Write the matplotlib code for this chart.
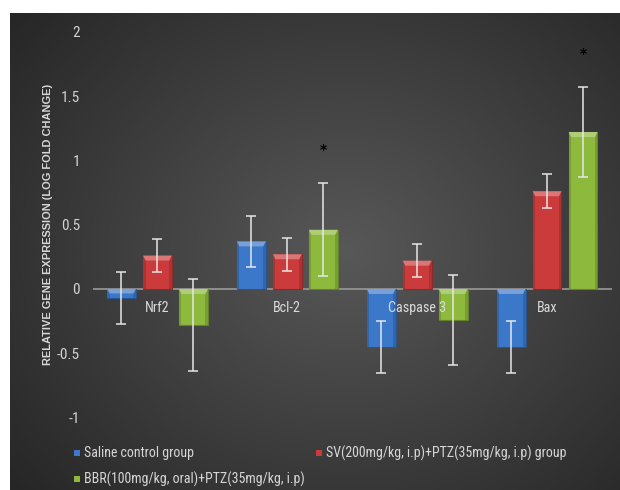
import numpy as np
import matplotlib
matplotlib.use("Agg")
import matplotlib.pyplot as plt
from matplotlib import font_manager
from matplotlib.patches import Rectangle, Polygon
from matplotlib.colors import to_rgb

# ---- data -------------------------------------------------------------
genes = ["Nrf2", "Bcl-2", "Caspase 3", "Bax"]
series_names = [
    "Saline control group",
    "SV(200mg/kg, i.p)+PTZ(35mg/kg, i.p) group",
    "BBR(100mg/kg, oral)+PTZ(35mg/kg, i.p)",
]
saline = [-0.07, 0.37, -0.45, -0.45]
saline_err = [0.20, 0.20, 0.20, 0.20]
sv = [0.26, 0.27, 0.22, 0.76]
sv_err = [0.13, 0.13, 0.13, 0.13]
bbr = [-0.28, 0.46, -0.24, 1.22]
bbr_err = [0.36, 0.36, 0.35, 0.35]
# significance marks drawn above the BBR bars
bbr_sig = ["", "*", "", "*"]
yticks = [-1, -0.5, 0, 0.5, 1, 1.5, 2]
ytick_labels = ["-1", "-0.5", "0", "0.5", "1", "1.5", "2"]

values = [saline, sv, bbr]
errors = [saline_err, sv_err, bbr_err]
colors = ["#3b78c9", "#cc3b3b", "#8dba3c"]

# pick a narrow face for the labels if one is installed
installed = {f.name for f in font_manager.fontManager.ttflist}
narrow_face = None
for cand in ["Roboto Condensed", "Liberation Sans Narrow", "Open Sans Condensed",
             "Roboto"]:
    if cand in installed:
        narrow_face = cand
        break
narrow = [narrow_face, "DejaVu Sans"] if narrow_face else ["DejaVu Sans"]
is_condensed = narrow_face not in (None, "Roboto")
plt.rcParams["font.family"] = narrow

W, H = 620, 490
fig = plt.figure(figsize=(W / 100, H / 100), dpi=100, facecolor="white")

# ---- dark radial-gradient panel ---------------------------------------
bg = fig.add_axes([10 / W, 0, (W - 10) / W, (H - 13) / H], zorder=0)
gy, gx = np.mgrid[0:1:300j, 0:1:380j]
r = np.sqrt(((gx - 0.55) / 0.75) ** 2 + ((gy - 0.5) / 0.8) ** 2)
r = np.clip(r, 0, 1)
light = np.array(to_rgb("#585858"))
dark = np.array(to_rgb("#242424"))
img = light[None, None, :] * (1 - r[..., None]) + dark[None, None, :] * r[..., None]
bg.imshow(img, aspect="auto", extent=[0, 1, 0, 1], origin="lower")
bg.set_axis_off()

# ---- main axes --------------------------------------------------------
left_px, right_px = 92.5, 612
top_px, bot_px = 31.7, 417.6
ax = fig.add_axes([left_px / W, 1 - bot_px / H,
                   (right_px - left_px) / W, (bot_px - top_px) / H], zorder=1)
ax.patch.set_alpha(0)
for s in ax.spines.values():
    s.set_visible(False)

x = np.arange(len(genes))
width = 0.222
step = 0.277
offsets = [-step, 0, step]

px_per_unit = (bot_px - top_px) / 3.0
units_per_xpx = (len(genes)) / (right_px - left_px)


def shade(c, f):
    c = np.array(to_rgb(c))
    if f > 0:
        return tuple(c + (1 - c) * f)
    return tuple(c * (1 + f))


for k in range(3):
    bars = ax.bar(x + offsets[k], values[k], width, color=colors[k],
                  edgecolor=shade(colors[k], -0.3), linewidth=0.8,
                  label=series_names[k], zorder=2)
    for b in bars:
        bx, by = b.get_x(), b.get_y()
        bw, bh = b.get_width(), b.get_height()
        top = max(by, by + bh)
        bottom = min(by, by + bh)
        # bevel: darker side strips and a lighter top facet
        side = 2.5 * units_per_xpx
        for sx in (bx, bx + bw - side):
            ax.add_patch(Rectangle((sx, bottom), side, top - bottom,
                                   facecolor=shade(colors[k], -0.15),
                                   edgecolor="none", zorder=3))
        facet = min(5 / px_per_unit, (top - bottom) * 0.5)
        ax.add_patch(Polygon([(bx, top), (bx + bw, top),
                              (bx + bw - side, top - facet), (bx + side, top - facet)],
                             closed=True, facecolor=shade(colors[k], 0.3),
                             edgecolor="none", zorder=3))
    ax.errorbar(x + offsets[k], values[k], yerr=errors[k], fmt="none",
                ecolor="#e6e6e6", elinewidth=1.1, capsize=3.8,
                capthick=1.1, zorder=4)

# significance stars
for i, mark in enumerate(bbr_sig):
    if mark:
        ax.annotate(mark, xy=(x[i] + offsets[2], bbr[i] + bbr_err[i]),
                    xytext=(0, 24), textcoords="offset points",
                    ha="center", va="center", fontsize=10,
                    color="black", fontweight="bold", zorder=5,
                    family=["DejaVu Sans"])

ax.axhline(0, color="#9a9a9a", linewidth=1.2, zorder=1)

ax.set_xlim(-0.5, len(genes) - 0.5)
ax.set_ylim(-1, 2)
ax.set_xticks([])
ax.set_yticks(yticks)
ax.set_yticklabels(ytick_labels)
lab_size = 11 if is_condensed else 9.5
ax.tick_params(axis="y", length=0, pad=9, labelsize=lab_size, labelcolor="#d4d4d4")

# category labels sit just under the zero line
cat_size = 10.2 if is_condensed else 9
for i, g in enumerate(genes):
    ax.annotate(g, xy=(x[i], 0), xytext=(0, -14), textcoords="offset points",
                ha="center", va="center", fontsize=cat_size, color="#dadada",
                zorder=5)

ax.set_ylabel("RELATIVE GENE EXPRESSION (LOG FOLD CHANGE)",
              family=["Liberation Sans", "DejaVu Sans"], fontweight="bold",
              fontsize=7.9, color="#d8d8d8")
ax.yaxis.set_label_coords((53 - left_px) / (right_px - left_px), 0.5)

# ---- legend -----------------------------------------------------------
legend_pos = [(77, 453), (319, 453), (77, 479)]
leg_size = 10 if is_condensed else 8.5
for k, (lx, ly) in enumerate(legend_pos):
    s = 6
    fig.add_artist(Rectangle(((lx - s / 2) / W, 1 - (ly + s / 2) / H), s / W, s / H,
                             transform=fig.transFigure,
                             facecolor=colors[k], edgecolor="none", zorder=5))
    fig.text((lx + 7) / W, 1 - ly / H, series_names[k], ha="left", va="center",
             fontsize=leg_size, color="#d6d6d6", zorder=5)

fig.savefig("out.png", dpi=100, facecolor="white")
